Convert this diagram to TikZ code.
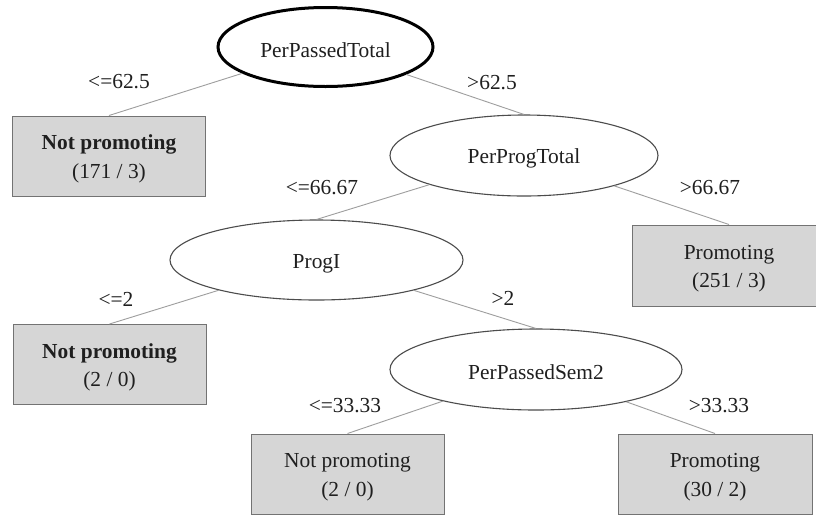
\documentclass[tikz,border=0pt]{standalone}
\usepackage{fontspec}
\setmainfont{Liberation Serif}
\usetikzlibrary{shapes.geometric}
\newcommand{\lowstrut}{\rule{0pt}{21pt}}
\begin{document}
\begin{tikzpicture}[x=1pt,y=-1pt,
  every node/.style={font=\fontsize{21.4}{28.5}\selectfont, text=black!88},
  split/.style={ellipse, draw=black!70, line width=1.1pt, inner sep=0pt},
  leaf/.style={rectangle, draw=black!55, fill=black!16, line width=1pt,
    minimum width=193pt, minimum height=80pt, align=center, inner sep=0pt},
  branch/.style={draw=black!38, line width=0.9pt},
  cond/.style={inner sep=0pt}]
\clip (0,0) rectangle (816,515);
\fill[white] (0,0) rectangle (816,515);

% decision nodes
\node[split, draw=black, line width=3pt, minimum width=215pt, minimum height=79pt] (root) at (325.5,47) {\lowstrut PerPassedTotal};
\node[split, minimum width=268pt, minimum height=81pt] (pp) at (524,155.5) {\lowstrut PerProgTotal};
\node[split, minimum width=293pt, minimum height=80pt] (progi) at (316.5,260) {\lowstrut ProgI};
\node[split, minimum width=292pt, minimum height=81pt] (sem2) at (536,369.5) {\lowstrut PerPassedSem2};

% leaves
\node[leaf] (l1) at (109,156) {\lowstrut\textbf{Not promoting}\\(171 / 3)};
\node[leaf, minimum width=194pt, minimum height=81pt] (l2) at (729,265.5) {\lowstrut Promoting\\(251 / 3)};
\node[leaf] (l3) at (109.5,364.5) {\lowstrut\textbf{Not promoting}\\(2 / 0)};
\node[leaf] (l4) at (347.5,474) {\lowstrut Not promoting\\(2 / 0)};
\node[leaf, minimum width=194pt] (l5) at (715,474) {\lowstrut Promoting\\(30 / 2)};

% branches
\draw[branch] (root) -- (l1.north);
\draw[branch] (root) -- (pp.north);
\draw[branch] (pp) -- (progi.north);
\draw[branch] (pp) -- (l2.north);
\draw[branch] (progi) -- (l3.north);
\draw[branch] (progi) -- (sem2.north);
\draw[branch] (sem2) -- (l4.north);
\draw[branch] (sem2) -- (l5.north);

% conditions
\node[cond] (c1) at (119,82) {<=62.5};
\node[cond] (c2) at (492,83) {>62.5};
\node[cond] (c3) at (322,188) {<=66.67};
\node[cond] (c4) at (710,188) {>66.67};
\node[cond] (c5) at (116,299) {<=2};
\node[cond] (c6) at (503,298) {>2};
\node[cond] (c7) at (345,406) {<=33.33};
\node[cond] (c8) at (719,406) {>33.33};
\end{tikzpicture}
\end{document}
